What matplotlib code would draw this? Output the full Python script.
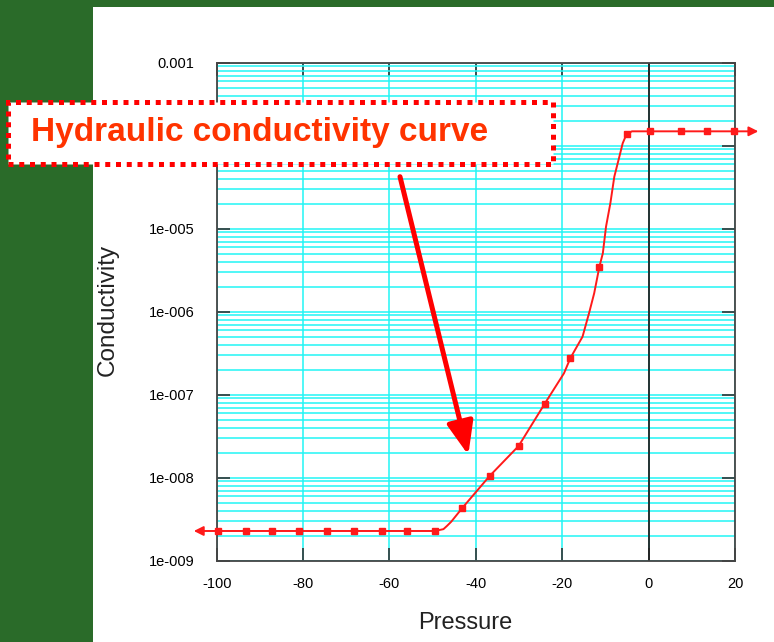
import numpy as np
import matplotlib.pyplot as plt
from matplotlib.patches import Rectangle
from matplotlib.ticker import FixedLocator, FixedFormatter, LogLocator, NullFormatter

plt.rcParams['font.family'] = ['Liberation Sans', 'DejaVu Sans']

# values
marker_pressure = [-99.6, -93.2, -87.1, -81.0, -74.5, -68.2, -61.8, -55.9, -49.5,
                   -43.2, -36.8, -30.1, -24.1, -18.1, -11.4, -5.1, 0.3, 7.5, 13.5, 19.7]
marker_cond = [2.28e-9, 2.28e-9, 2.28e-9, 2.28e-9, 2.28e-9, 2.28e-9, 2.28e-9, 2.28e-9, 2.28e-9,
               4.28e-9, 1.05e-8, 2.41e-8, 7.72e-8, 2.77e-7, 3.48e-6, 1.38e-4,
               1.49e-4, 1.49e-4, 1.49e-4, 1.49e-4]

# extra points traced along the line between the markers
trace_pressure = [-100.0, -47.5, -46.7, -45.7, -19.6, -15.3, -13.8, -12.6, -10.6, -9.86,
                  -8.86, -7.94, -6.78, -6.0, -3.86, 20.0]
trace_cond = [2.28e-9, 2.4e-9, 2.62e-9, 2.95e-9, 1.81e-7, 5.0e-7, 9.57e-7, 1.67e-6, 5.06e-6,
              1.06e-5, 2.02e-5, 4.24e-5, 7.36e-5, 1.07e-4, 1.49e-4, 1.49e-4]

x_ticks = [-100, -80, -60, -40, -20, 0, 20]
x_labels = ["-100", "-80", "-60", "-40", "-20", "0", "20"]
y_ticks = [1e-9, 1e-8, 1e-7, 1e-6, 1e-5, 1e-4, 1e-3]
# the 1e-004 label sits under the callout box in the original
y_labels = ["1e-009", "1e-008", "1e-007", "1e-006", "1e-005", "", "0.001"]

W, H = 774, 642
fig = plt.figure(figsize=(W / 100, H / 100), dpi=100)
fig.patch.set_facecolor('#2a6b29')
fig.patches.append(Rectangle((93 / W, 0), 1 - 93 / W, 1 - 7 / H, transform=fig.transFigure,
                             facecolor='white', edgecolor='none', zorder=-1))

ax = fig.add_axes([216.7 / W, 1 - 560.7 / H, (735 - 216.7) / W, (560.7 - 62.7) / H])
ax.set_facecolor('white')

red = '#ff1a1a'
cp = np.array(marker_pressure + trace_pressure)
cc = np.array(marker_cond + trace_cond)
order = np.argsort(cp)
ax.plot(cp[order], cc[order], color=red, lw=1.4, zorder=3, clip_on=False)
ax.plot(marker_pressure, marker_cond, 's', color=red, ms=3.8, zorder=4, clip_on=False)

# off-scale arrows at the two ends of the curve
ax.annotate('', xy=(-105.3, 2.28e-9), xytext=(-100, 2.28e-9),
            arrowprops=dict(arrowstyle='-|>', color=red, lw=1.4, mutation_scale=14, shrinkA=0, shrinkB=0),
            annotation_clip=False)
ax.annotate('', xy=(25.4, 1.49e-4), xytext=(20, 1.49e-4),
            arrowprops=dict(arrowstyle='-|>', color=red, lw=1.4, mutation_scale=14, shrinkA=0, shrinkB=0),
            annotation_clip=False)

ax.set_yscale('log')
ax.set_xlim(-100, 20)
ax.set_ylim(1e-9, 1e-3)

ax.xaxis.set_major_locator(FixedLocator(x_ticks))
ax.xaxis.set_major_formatter(FixedFormatter(x_labels))
ax.yaxis.set_major_locator(FixedLocator(y_ticks))
ax.yaxis.set_major_formatter(FixedFormatter(y_labels))
ax.yaxis.set_minor_locator(LogLocator(base=10, subs=np.arange(2, 10)))
ax.yaxis.set_minor_formatter(NullFormatter())

ax.grid(axis='x', which='major', color='#22f5f5', lw=1.1)
ax.grid(axis='y', which='both', color='#22f5f5', lw=1.1)
ax.set_axisbelow(True)
ax.axvline(0, color='#222222', lw=1.3, zorder=2)

ax.tick_params(which='major', direction='in', length=9.5, width=1.2, color='#333333',
               top=True, right=True, labelsize=10.5)
ax.tick_params(axis='x', pad=11.5)
ax.tick_params(axis='y', pad=16)
ax.tick_params(which='minor', length=0)
for s in ax.spines.values():
    s.set_color('#444444')
    s.set_linewidth(1.3)

fig.text(465 / W, 1 - 623 / H, "Pressure", fontsize=17, ha='center', va='center', color='#222222')
fig.text(107.5 / W, 1 - 310 / H, "Conductivity", fontsize=17.5, rotation=90,
         ha='center', va='center', color='#222222')

# callout box with dotted border
fig.patches.append(Rectangle((8 / W, 1 - 163.5 / H), (553 - 8) / W, 62 / H, transform=fig.transFigure,
                             facecolor='white', edgecolor='#ff0000', lw=3.6,
                             linestyle=(0, (1, 1.15)), capstyle='butt', zorder=5))
fig.text(31 / W, 1 - 133 / H, "Hydraulic conductivity curve", fontsize=24, fontweight='bold',
         color='#ff3300', ha='left', va='center', zorder=6)

ax.annotate('', xy=(468.3, H - 455), xytext=(400, H - 176.7), xycoords='figure pixels',
            textcoords='figure pixels',
            arrowprops=dict(arrowstyle='-|>,head_length=2.0,head_width=0.8', color='#ff0000',
                            lw=3.6, mutation_scale=10, shrinkA=0, shrinkB=0),
            annotation_clip=False)

fig.savefig('out.png', dpi=100, facecolor=fig.get_facecolor())
